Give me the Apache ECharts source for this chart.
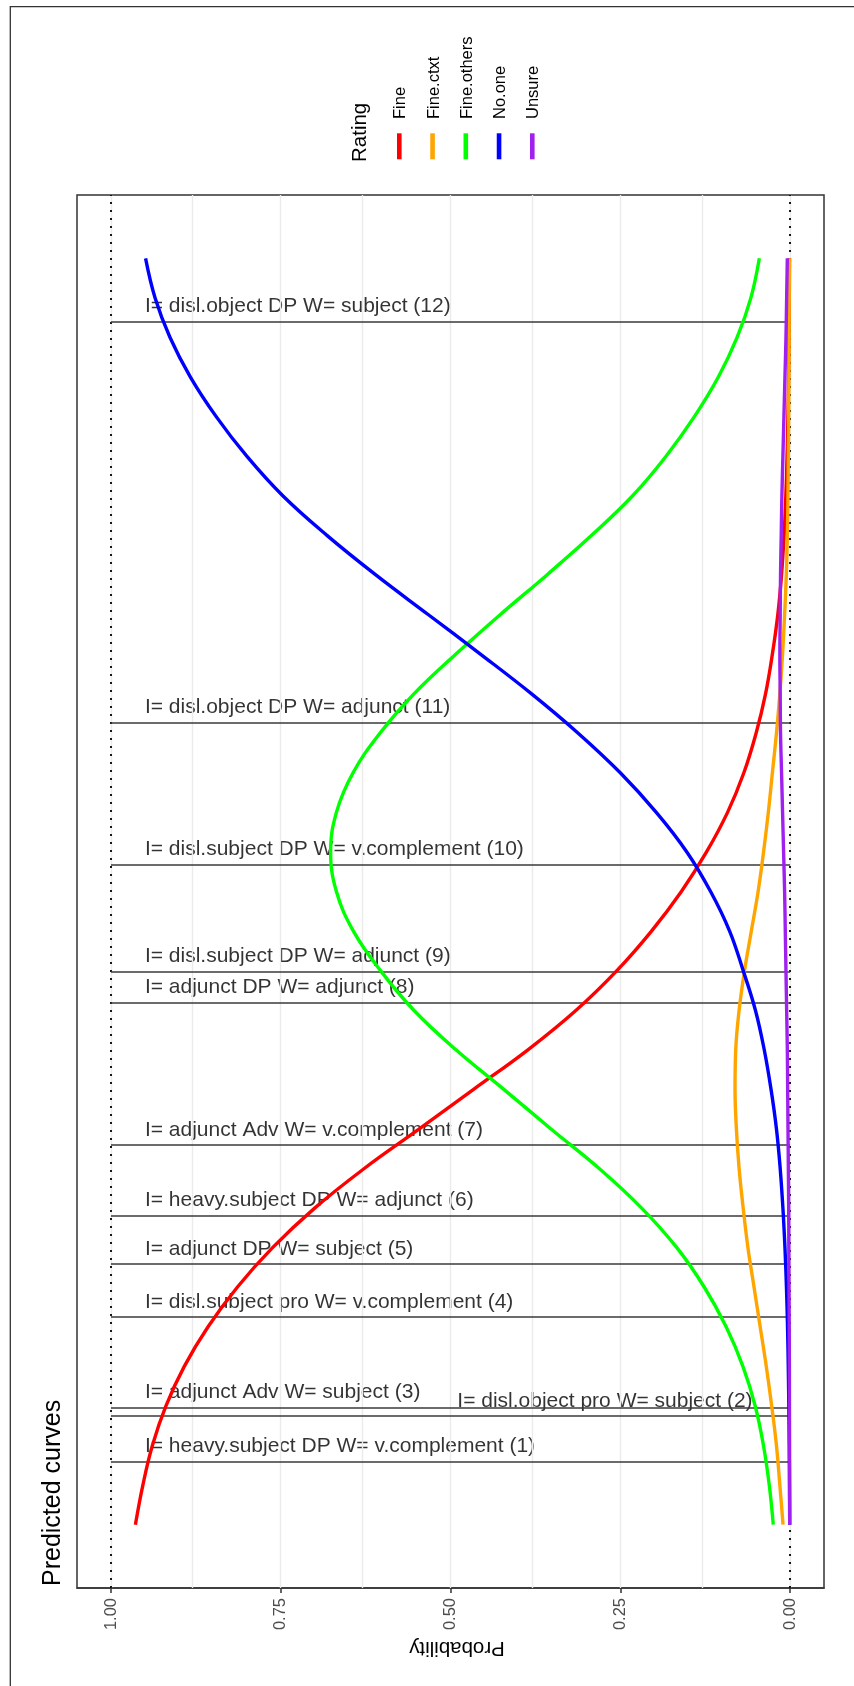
<!DOCTYPE html>
<html>
<head>
<meta charset="utf-8">
<script src="https://cdn.jsdelivr.net/npm/echarts@6/dist/echarts.min.js"></script>
<style>
  html, body { margin: 0; padding: 0; background: #fff; }
  #main { width: 854px; height: 1686px; }
</style>
</head>
<body>
<div id="main"></div>
<script>
  // latent scale, bottom of the panel -> top
  const theta = [-4, -3.75, -3.5, -3.25, -3, -2.75, -2.5, -2.25, -2, -1.75, -1.5, -1.25, -1, -0.75, -0.5, -0.25,
    0, 0.25, 0.5, 0.75, 1, 1.25, 1.5, 1.75, 2, 2.25, 2.5, 2.75, 3, 3.25, 3.5, 3.75, 4]
  const ratings = ['Fine', 'Fine.ctxt', 'Fine.others', 'No.one', 'Unsure']
  const ratingColors = ['#FF0000', '#FFA500', '#00FF00', '#0000FF', '#A020F0']
  // predicted probability of each rating along theta
  const fine = [0.964, 0.953, 0.939, 0.919, 0.892, 0.857, 0.814, 0.762, 0.7, 0.627, 0.546, 0.466, 0.386, 0.315, 0.255, 0.204,
    0.16, 0.123, 0.092, 0.068, 0.05, 0.036, 0.026, 0.018, 0.0125, 0.0088, 0.0062, 0.0044, 0.0031, 0.0022, 0.0016, 0.0011, 0.0008]
  const fineCtxt = [0.0103, 0.015, 0.02, 0.027, 0.035, 0.044, 0.053, 0.062, 0.069, 0.075, 0.079, 0.081, 0.08, 0.075, 0.067, 0.057,
    0.047, 0.039, 0.032, 0.026, 0.02, 0.015, 0.011, 0.008, 0.0055, 0.004, 0.003, 0.0025, 0.002, 0.0017, 0.0014, 0.0012, 0.001]
  const fineOthers = [0.0247, 0.0306, 0.0391, 0.0513, 0.0694, 0.0941, 0.1262, 0.1667, 0.2185, 0.281, 0.352, 0.4215, 0.492, 0.554, 0.603, 0.643,
    0.668, 0.6765, 0.668, 0.6435, 0.604, 0.5535, 0.492, 0.4265, 0.358, 0.2922, 0.2318, 0.1826, 0.1409, 0.1056, 0.078, 0.0577, 0.0452]
  const noOne = [0.0005, 0.0008, 0.0012, 0.0018, 0.0026, 0.0037, 0.0053, 0.0075, 0.0105, 0.0145, 0.02, 0.028, 0.038, 0.051, 0.069, 0.089,
    0.117, 0.152, 0.197, 0.25, 0.312, 0.381, 0.456, 0.533, 0.61, 0.682, 0.747, 0.8, 0.845, 0.883, 0.913, 0.935, 0.949]
  const unsure = [0.0005, 0.0006, 0.0007, 0.0009, 0.001, 0.0012, 0.0015, 0.0018, 0.002, 0.0025, 0.003, 0.0035, 0.004, 0.005, 0.006, 0.007,
    0.008, 0.0095, 0.011, 0.0125, 0.014, 0.0145, 0.015, 0.0145, 0.014, 0.013, 0.012, 0.0105, 0.009, 0.0075, 0.006, 0.005, 0.004]
  const curves = [fine, fineCtxt, fineOthers, noOne, unsure]

  // items: location on theta, label, and where along probability the label starts
  const itemLabels = [
    'I= heavy.subject DP W= v.complement (1)',
    'I= disl.object pro W= subject (2)',
    'I= adjunct Adv W= subject (3)',
    'I= disl.subject pro W= v.complement (4)',
    'I= adjunct DP W= subject (5)',
    'I= heavy.subject DP W= adjunct (6)',
    'I= adjunct Adv W= v.complement (7)',
    'I= adjunct DP W= adjunct (8)',
    'I= disl.subject DP W= adjunct (9)',
    'I= disl.subject DP W= v.complement (10)',
    'I= disl.object DP W= adjunct (11)',
    'I= disl.object DP W= subject (12)'
  ]
  const itemPos = [-3.6, -3.314, -3.261, -2.687, -2.354, -2.048, -1.603, -0.701, -0.504, 0.172, 1.068, 3.6]
  const labelAt = [0.95, 0.49, 0.95, 0.95, 0.95, 0.95, 0.95, 0.95, 0.95, 0.95, 0.95, 0.95]

  const probTicks = [0, 0.25, 0.5, 0.75, 1]
  const gridVals = [0, 0.125, 0.25, 0.375, 0.5, 0.625, 0.75, 0.875, 1]
  const refVals = [0, 1]

  const FONT = 'Liberation Sans, Arial, Helvetica, sans-serif'
  const chart = echarts.init(document.getElementById('main'))

  const series = []
  // background: grid lines and dotted reference lines
  series.push({
    type: 'line', data: [], z: 1, silent: true,
    markLine: {
      silent: true, symbol: ['none', 'none'], label: { show: false },
      lineStyle: { color: '#EBEBEB', width: 1.4, type: 'solid' },
      data: gridVals.map(v => ({ xAxis: v }))
    }
  })
  series.push({
    type: 'line', data: [], z: 2, silent: true,
    markLine: {
      silent: true, symbol: ['none', 'none'], label: { show: false },
      lineStyle: { color: '#000000', width: 1.8, type: [2, 6] },
      data: refVals.map(v => ({ xAxis: v }))
    }
  })
  // item lines
  series.push({
    type: 'line', data: [], z: 3, silent: true,
    markLine: {
      silent: true, symbol: ['none', 'none'], label: { show: false },
      lineStyle: { color: '#3A3A3A', width: 1.5, type: 'solid' },
      data: itemPos.map(t => [{ coord: [1, t] }, { coord: [0, t] }])
    }
  })
  // item labels
  series.push({
    type: 'scatter', z: 4, silent: true, symbolSize: 0,
    data: itemPos.map((t, i) => [labelAt[i], t]),
    label: {
      show: true, position: [0, 0], align: 'left', verticalAlign: 'middle', offset: [0, -15],
      formatter: p => itemLabels[p.dataIndex],
      fontSize: 21, color: '#000000', fontFamily: FONT
    }
  })
  // predicted curves
  curves.forEach((vals, k) => {
    series.push({
      name: ratings[k], type: 'line', z: 6, smooth: 0.4,
      showSymbol: false, symbol: 'none',
      lineStyle: { color: ratingColors[k], width: 3.4 },
      itemStyle: { color: ratingColors[k] },
      data: theta.map((t, i) => [vals[i], t])
    })
  })

  // legend drawn by hand because its texts are rotated
  const legendEls = [{
    type: 'text', x: 360, y: 162, rotation: Math.PI / 2,
    style: { text: 'Rating', fontSize: 20.5, fontFamily: FONT, fill: '#000', align: 'left', verticalAlign: 'middle' }
  }]
  ratings.forEach((r, k) => {
    const cx = 399.3 + k * 33.25
    legendEls.push({
      type: 'rect', shape: { x: cx - 2.3, y: 133.3, width: 4.6, height: 26 },
      style: { fill: ratingColors[k] }
    })
    legendEls.push({
      type: 'text', x: cx + 1.5, y: 119, rotation: Math.PI / 2,
      style: { text: r, fontSize: 16.5, fontFamily: FONT, fill: '#000', align: 'left', verticalAlign: 'middle' }
    })
  })

  chart.setOption({
    animation: false,
    backgroundColor: '#ffffff',
    grid: {
      left: 77, right: 30, top: 195, bottom: 98,
      show: true, borderColor: '#333333', borderWidth: 1.5, backgroundColor: 'transparent'
    },
    xAxis: {
      type: 'value', inverse: true, min: -0.05, max: 1.05,
      axisLine: { show: true, onZero: false, lineStyle: { color: '#333333', width: 1.5 } },
      axisTick: { show: true, customValues: probTicks, length: 5, lineStyle: { color: '#333333', width: 1.5 } },
      axisLabel: {
        show: true, customValues: probTicks, rotate: 90, margin: 10,
        color: '#4D4D4D', fontSize: 16.5, fontFamily: FONT,
        formatter: v => Number(v).toFixed(2)
      },
      splitLine: { show: false }
    },
    yAxis: {
      type: 'value', min: -4.4, max: 4.4, show: false
    },
    series: series,
    graphic: [
      {
        type: 'rect', silent: true, shape: { x: 10.3, y: 6.7, width: 900, height: 1760 },
        style: { fill: 'none', stroke: '#333333', lineWidth: 1.3 }
      },
      {
        type: 'text', x: 53, y: 1586, rotation: Math.PI / 2,
        style: { text: 'Predicted curves', fontSize: 25, fontFamily: FONT, fill: '#000', align: 'left', verticalAlign: 'middle' }
      },
      {
        type: 'text', x: 457, y: 1648, rotation: Math.PI,
        style: { text: 'Probability', fontSize: 20.5, fontFamily: FONT, fill: '#000', align: 'center', verticalAlign: 'middle' }
      }
    ].concat(legendEls)
  })
</script>
</body>
</html>
